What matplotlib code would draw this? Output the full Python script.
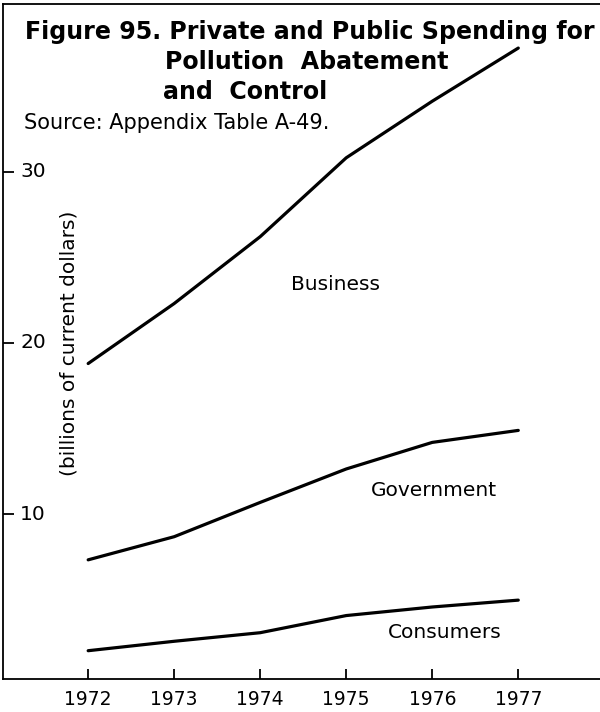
import matplotlib
matplotlib.use("Agg")
import matplotlib.pyplot as plt
import matplotlib.transforms as mtransforms

plt.rcParams['font.family'] = ['DejaVu Sans']

years = [1972, 1973, 1974, 1975, 1976, 1977]
business = [18.8, 22.3, 26.2, 30.8, 34.1, 37.2]
government = [7.35, 8.7, 10.7, 12.65, 14.2, 14.9]
consumers = [2.05, 2.6, 3.1, 4.1, 4.6, 5.0]

series_labels = ["Business", "Government", "Consumers"]
y_ticks = [10, 20, 30]

fig = plt.figure(figsize=(6.0, 7.12), dpi=100)
ax = fig.add_axes([3 / 600, 1 - 679 / 712, 597 / 600, 675 / 712])

for vals in (business, government, consumers):
    ax.plot(years, vals, color='black', linewidth=2.3, solid_capstyle='round')

ax.set_xlim(1971.01, 1977.95)
ax.set_ylim(0.4, 39.77)

ax.spines['right'].set_visible(False)
for s in ('left', 'top', 'bottom'):
    ax.spines[s].set_linewidth(1.3)

ax.set_xticks(years)
ax.set_xticklabels([str(y) for y in years], fontsize=13.5)
ax.tick_params(axis='x', direction='in', length=7, width=1.3, pad=8)

ax.set_yticks(y_ticks)
ax.set_yticklabels([])
ax.tick_params(axis='y', direction='in', length=8, width=1.3)
ytrans = mtransforms.blended_transform_factory(ax.transAxes, ax.transData)
for t in y_ticks:
    ax.text(17 / 597, t, str(t), transform=ytrans, fontsize=14.5,
            ha='left', va='center')

ax.text(66 / 597, 20.0, "(billions of current dollars)", transform=ytrans,
        rotation=90, fontsize=14.5, ha='center', va='center')

# series labels
ax.text(1974.87, 23.4, series_labels[0], fontsize=14.5, ha='center', va='center')
ax.text(1976.02, 11.4, series_labels[1], fontsize=14.5, ha='center', va='center')
ax.text(1976.14, 3.1, series_labels[2], fontsize=14.5, ha='center', va='center')

# title block
fig.text(25 / 600, 1 - 39 / 712, "Figure 95. Private and Public Spending for",
         fontsize=17.1, fontweight='bold', ha='left', va='baseline')
fig.text(165 / 600, 1 - 69 / 712, "Pollution  Abatement",
         fontsize=17.1, fontweight='bold', ha='left', va='baseline')
fig.text(163 / 600, 1 - 99 / 712, "and  Control",
         fontsize=17.1, fontweight='bold', ha='left', va='baseline')
fig.text(24 / 600, 1 - 129 / 712, "Source: Appendix Table A-49.",
         fontsize=15, ha='left', va='baseline')

fig.savefig("out.png", dpi=100)
